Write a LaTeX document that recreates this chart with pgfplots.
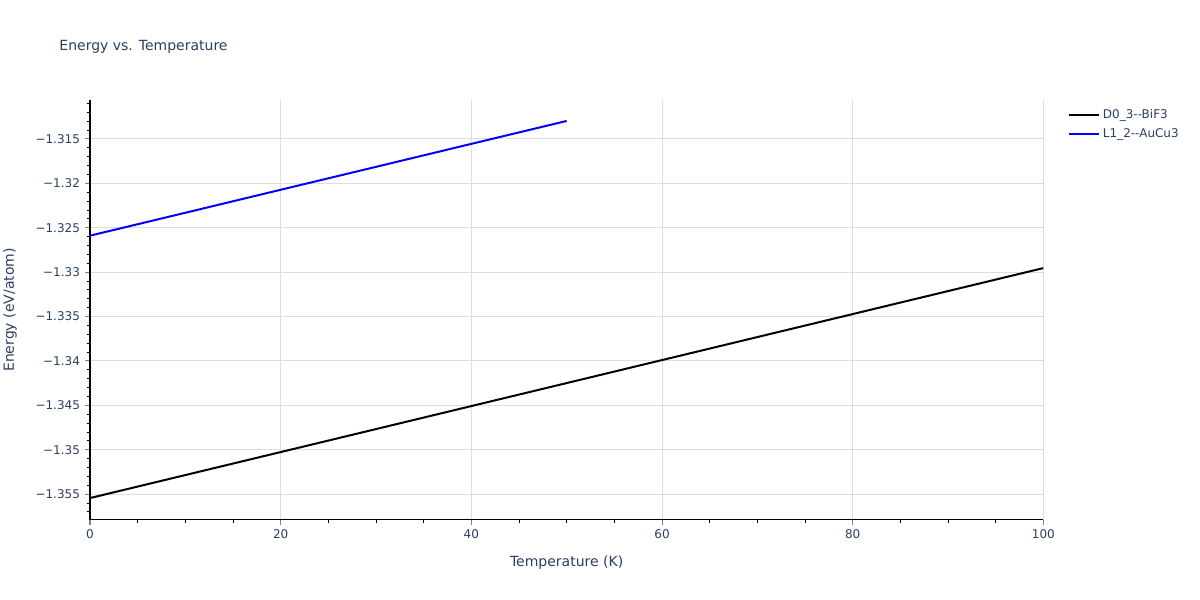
\documentclass[border=0pt]{standalone}
\usepackage{pgfplots}
\pgfplotsset{compat=1.18}
\usepackage{fontspec}
\setmainfont{DejaVu Sans}
\definecolor{txt}{HTML}{2A3F5F}
\definecolor{gridc}{HTML}{DDDDDD}

\begin{document}
\begin{tikzpicture}
\useasboundingbox (0,0) rectangle (900pt,450pt);
\begin{axis}[
    at={(67.5pt,60pt)}, anchor=south west,
    scale only axis,
    width=715pt, height=315pt,
    xmin=0, xmax=100,
    ymin=-1.35792, ymax=-1.31062,
    axis x line*=bottom, axis y line*=left,
    axis line style={black, -, line width=0.75pt},
    xtick={0,20,40,60,80,100},
    minor xtick={5,10,15,25,30,35,45,50,55,65,70,75,85,90,95},
    ytick={-1.355,-1.35,-1.345,-1.34,-1.335,-1.33,-1.325,-1.32,-1.315},
    yticklabels={−1.355,−1.35,−1.345,−1.34,−1.335,−1.33,−1.325,−1.32,−1.315},
    minor ytick={-1.357,-1.356,-1.354,-1.353,-1.352,-1.351,-1.349,-1.348,-1.347,-1.346,
                 -1.344,-1.343,-1.342,-1.341,-1.339,-1.338,-1.337,-1.336,-1.334,-1.333,
                 -1.332,-1.331,-1.329,-1.328,-1.327,-1.326,-1.324,-1.323,-1.322,-1.321,
                 -1.319,-1.318,-1.317,-1.316,-1.314,-1.313,-1.312,-1.311},
    tick align=outside,
    major tick length=4pt, minor tick length=2.5pt,
    major tick style={gray, line width=0.75pt},
    minor tick style={black, line width=0.6pt},
    grid=major,
    major grid style={gridc, line width=0.75pt},
    ticklabel style={font=\fontsize{9}{10}\selectfont, text=txt},
    /pgf/number format/assume math mode=true,
    xlabel={Temperature (K)},
    ylabel={Energy (eV/atom)},
    xlabel style={font=\fontsize{10.5}{12}\selectfont, text=txt,
        at={(axis description cs:0.5,-0.102)}, anchor=center},
    ylabel style={font=\fontsize{10.5}{12}\selectfont, text=txt,
        at={(axis description cs:-0.084,0.5)}, anchor=center},
    title={Energy vs. Temperature},
    title style={font=\fontsize{10.5}{12}\selectfont, text=txt,
        at={(axis description cs:-0.037,1.107)}, anchor=west},
    legend style={at={(axis description cs:1.021,0.99)}, anchor=north west,
        draw=none, fill=none, font=\fontsize{9}{10}\selectfont, text=txt,
        row sep=2pt},
    legend cell align=left,
    legend image code/.code={\draw[#1, line width=1.5pt] (0pt,0pt) -- (23pt,0pt);},
]
\addplot[black, line width=1.5pt] coordinates {
    (0,-1.35545) (20,-1.35027) (40,-1.34509) (60,-1.33991) (80,-1.33473) (100,-1.32955)
};
\addlegendentry{D0\_3{-}{-}BiF3}
\addplot[blue, line width=1.5pt] coordinates {
    (0,-1.32590) (10,-1.32332) (20,-1.32073) (30,-1.31815) (40,-1.31556) (50,-1.31298)
};
\addlegendentry{L1\_2{-}{-}AuCu3}
\end{axis}
\end{tikzpicture}
\end{document}
